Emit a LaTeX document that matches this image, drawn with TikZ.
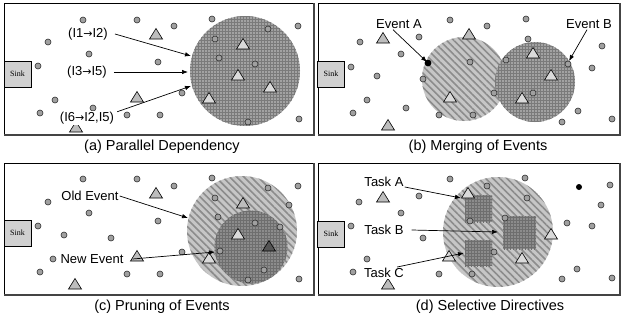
\documentclass[tikz,border=0pt]{standalone}
\usepackage{fontspec}
\setmainfont{Liberation Sans}
\newfontfamily\sinkfont{Liberation Serif}
\newfontfamily\arrfont{DejaVu Sans}
\newcommand{\ra}{{\arrfont\fontsize{11}{13}\selectfont →}}
\usetikzlibrary{patterns,patterns.meta,arrows.meta}
\definecolor{dotfill}{HTML}{A0A0A0}
\definecolor{dotline}{HTML}{303030}
\definecolor{trimid}{HTML}{BDBDBD}
\definecolor{trilight}{HTML}{DADADA}
\definecolor{tridark}{HTML}{555555}
\definecolor{gridbg}{HTML}{A2A2A2}
\definecolor{gridln}{HTML}{7A7A7A}
\definecolor{gridbgd}{HTML}{8C8C8C}
\definecolor{gridlnd}{HTML}{6E6E6E}
\definecolor{hatchbg}{HTML}{C6C6C6}
\definecolor{hatchln}{HTML}{8C8C8C}
\definecolor{sinkfill}{HTML}{D0D0D0}
\definecolor{framebot}{HTML}{444444}
\newcommand{\dotset}[1]{\foreach \x/\y in {#1} {\filldraw[dotst] (\x,\y) circle[radius=3pt];}}
\newcommand{\triset}[2]{\foreach \x/\y in {#2} {\filldraw[trist,fill=#1] (\x-6.5,\y+5) -- (\x+6.5,\y+5) -- (\x,\y-5.5) -- cycle;}}
\newcommand{\panelframe}[4]{\draw[line width=0.6pt] (#1,#2) rectangle (#3,#4);
  \draw[framebot,line width=1.8pt] (#1,#4) -- (#3,#4) -- (#3,#2);}
\begin{document}
\begin{tikzpicture}[x=1pt,y=-1pt,
  dotst/.style={fill=dotfill,draw=dotline,line width=0.6pt},
  trist/.style={draw=black,line width=0.6pt,line join=miter},
  gridarea/.style={preaction={fill=gridbg},pattern=grid,pattern color=gridln},
  gridareadark/.style={preaction={fill=gridbgd},pattern=grid,pattern color=gridlnd},
  hatcharea/.style={preaction={fill=hatchbg},pattern={Lines[angle=-45,distance=5pt,line width=1.6pt]},pattern color=hatchln},
  lbl/.style={fill=white,inner sep=1pt,font=\fontsize{13}{15}\selectfont},
  captxt/.style={inner sep=0pt,font=\fontsize{14.5}{17}\selectfont},
  sinkbox/.style={draw=black,fill=sinkfill,line width=0.6pt,minimum width=27pt,minimum height=26pt,inner sep=0pt,font=\sinkfont\fontsize{8}{9}\selectfont},
  arr/.style={-{Latex[length=6pt,width=4.5pt]},line width=0.7pt}]
\useasboundingbox (0,0) rectangle (621,322);
\fill[white] (0,0) rectangle (621,322);

% ---------------- panel (a) ----------------
\panelframe{4}{3}{314}{135}
\fill[gridarea] (245,71) circle[radius=55pt];
\dotset{83/20,137/20,174/26,212/19,48/42,89/54,38/66,158/62,55/100,40/113,93/108,127/115,160/115,182/93,298/26,299/119,268/29,215/39,219/58,255/64,248/122}
\triset{trimid}{156/34,137/97,76/127}
\triset{trilight}{243/44,238/75,270/87,209/98}
\node[sinkbox] (sinka) at (17.5,74) {Sink};
\node[lbl] (la1) at (88,34) {(I1\ra I2)};
\node[lbl] (la2) at (87,72) {(I3\ra I5)};
\node[lbl] (la3) at (87,118) {(I6\ra I2,I5)};
\coordinate (ta1) at (191,56);
\coordinate (ta2) at (188,72);
\coordinate (ta3) at (191,86);
\draw[arr] ([xshift=6pt]la1.east) -- (ta1);
\draw[arr] ([xshift=6pt]la2.east) -- (ta2);
\draw[arr] ([xshift=2pt,yshift=-1pt]la3.north east) -- (ta3);
\node[captxt] (capa) at (162,147) {(a) Parallel Dependency};

% ---------------- panel (b) ----------------
\panelframe{318}{3}{620}{135}
\fill[hatcharea] (464,79) circle[radius=42pt];
\fill[gridarea] (535,82) circle[radius=40pt];
\dotset{360/42,351/67,377/76,401/54,419/37,450/20,487/26,526/19,528/39,506/60,470/62,423/79,494/93,533/93,568/64,592/68,602/46,367/100,353/113,406/108,439/115,473/115,578/111,562/122,612/119}
\fill[black] (428,63) circle[radius=3.4pt];
\triset{trimid}{383/38,469/34,388/125}
\triset{trilight}{533/53,551/75,450/97,522/98}
\node[sinkbox] (sinkb) at (331,74) {Sink};
\node[lbl] (ea) at (399,24) {Event A};
\node[lbl] (eb) at (589,24) {Event B};
\coordinate (tea) at (427,62);
\coordinate (teb) at (569,61);
\draw[arr] ([xshift=-6pt]ea.south) -- (tea);
\draw[arr] ([xshift=-2pt]eb.south) -- (teb);
\node[captxt] (capb) at (478,147) {(b) Merging of Events};

% ---------------- panel (c) ----------------
\panelframe{4}{163}{314}{295}
\fill[hatcharea] (242,231) circle[radius=55pt];
\fill[gridareadark] (251,247) circle[radius=36.5pt];
\dotset{83/179,137/179,174/186,212/178,48/202,89/213,38/226,158/221,64/235,111/238,182/252,40/272,127/274,160/274,53/259,215/198,218/217,268/188,289/205,298/186,255/223,280/227,220/251,264/270,248/280,299/279}
\triset{trimid}{156/193,243/203,137/256,75/284}
\triset{trilight}{238/234,209/258}
\triset{tridark}{269/246}
\node[sinkbox] (sinkc) at (17.5,233) {Sink};
\node[lbl] (oe) at (90,196) {Old Event};
\node[lbl] (ne) at (92,259) {New Event};
\coordinate (toe) at (188,218);
\coordinate (tne) at (215,252);
\draw[arr] (oe.east) -- (toe);
\draw[arr] ([xshift=8pt]ne.east) -- (tne);
\node[captxt] (capc) at (162,307) {(c) Pruning of Events};

% ---------------- panel (d) ----------------
\panelframe{318}{163}{620}{295}
\fill[hatcharea] (498,232) circle[radius=55pt];
\fill[gridareadark] (465,195) rectangle (492,222);
\fill[gridareadark] (503,216) rectangle (536,249);
\fill[gridareadark] (465,240) rectangle (492,266);
\dotset{359/202,351/226,401/213,419/196,450/179,487/186,525/178,527/198,470/221,505/218,423/238,494/252,367/259,353/272,439/274,472/274,610/185,601/205,567/223,592/226,577/269,562/279,612/278}
\fill[black] (579,187) circle[radius=3pt];
\triset{trimid}{383/197,388/284}
\triset{trilight}{468/193,551/234,449/256,522/258}
\node[sinkbox] (sinkd) at (331,234) {Sink};
\node[lbl] (ta) at (384,182) {Task A};
\node[lbl] (tb) at (384,230) {Task B};
\node[lbl] (tc) at (384,273) {Task C};
\coordinate (tta) at (461,198);
\coordinate (ttb) at (498,232);
\coordinate (ttc) at (464,253);
\draw[arr] ([yshift=1pt]ta.south east) -- (tta);
\draw[arr] ([xshift=7pt]tb.east) -- (ttb);
\draw[arr] ([xshift=-8pt]tc.north east) -- (ttc);
\node[captxt] (capd) at (490,307) {(d) Selective Directives};
\end{tikzpicture}
\end{document}
